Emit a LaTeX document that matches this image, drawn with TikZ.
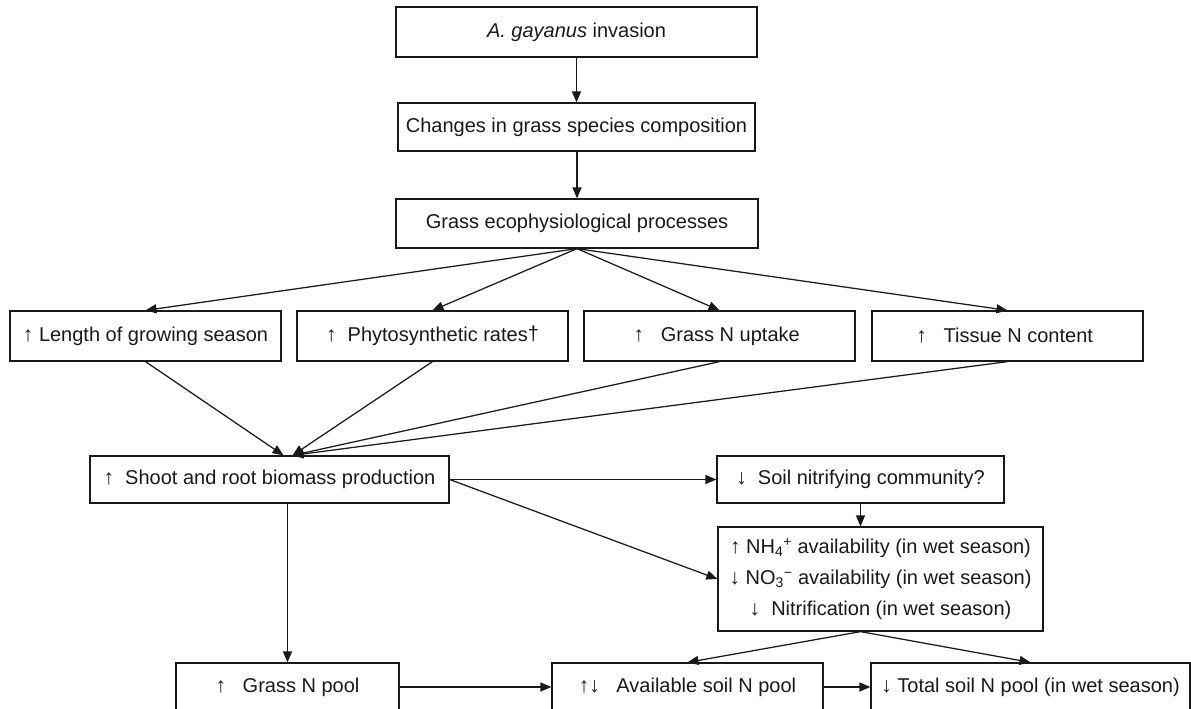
\documentclass[tikz,border=0pt]{standalone}
\usepackage{fontspec}
\setmainfont{Liberation Sans}
\usetikzlibrary{arrows.meta,calc}
\newcommand\myup{{\fontsize{21}{21}\selectfont ↑}}
\newcommand\mydn{{\fontsize{21}{21}\selectfont ↓}}
\begin{document}
\begin{tikzpicture}[x=1pt,y=-1pt,
  box/.style={draw=black!90, line width=1.25pt, inner sep=0pt, text=black!90,
    font=\fontsize{20}{31}\selectfont, anchor=center},
  arr/.style={draw=black!90, line width=1.25pt, -{Triangle[length=11pt,width=9pt]}},
]
\useasboundingbox (0,0) rectangle (1191,709);
\clip (0,0) rectangle (1191,709);

\node[box, minimum width=361pt, minimum height=50pt] (inv) at (576.5,32) {\textit{A. gayanus} invasion};
\node[box, minimum width=357pt, minimum height=48pt] (chg) at (576.5,127) {Changes in grass species composition};
\node[box, minimum width=362pt, minimum height=49pt] (eco) at (577,223.5) {Grass ecophysiological processes};

\node[box, minimum width=271pt, minimum height=50pt] (len) at (145.5,336) {\myup\ Length of growing season};
\node[box, minimum width=271pt, minimum height=50pt] (pho) at (432.5,336) {\myup\ \ Phytosynthetic rates\raisebox{1pt}{†}};
\node[box, minimum width=271pt, minimum height=50pt] (upt) at (719.5,336) {\myup\ \ \ Grass N uptake\ \ };
\node[box, minimum width=271pt, minimum height=50pt] (tis) at (1007.5,336) {\myup\ \ \ Tissue N content\ \ };

\node[box, minimum width=359pt, minimum height=47pt] (sho) at (269.5,479.5) {\myup\ \ Shoot and root biomass production};
\node[box, minimum width=287pt, minimum height=47pt] (nit) at (860.5,479.5) {\mydn\ \ Soil nitrifying community?};
\node[box, minimum width=325pt, minimum height=104pt, align=center] (nh4) at (880.5,579)
  {\myup\ NH\textsubscript{4}\textsuperscript{+} availability (in wet season)\\
   \mydn\ NO\textsubscript{3}\textsuperscript{−} availability (in wet season)\\
   \mydn\ \ Nitrification (in wet season)};

\node[box, minimum width=223pt, minimum height=48pt] (gnp) at (287.5,687) {\myup\ \ \ Grass N pool\ };
\node[box, minimum width=271pt, minimum height=48pt] (asp) at (687.5,687) {\myup\mydn\ \ \ Available soil N pool};
\node[box, minimum width=319pt, minimum height=48pt] (tsp) at (1030.5,687) {\mydn\ Total soil N pool (in wet season)};

\coordinate (c1) at ($(sho.north)+(14,0)$);
\coordinate (c2) at ($(sho.north)+(23,0)$);
\coordinate (nb) at (nit.south |- nh4.south);

\draw[arr] (inv.south) -- (inv.south |- chg.north);
\draw[arr] (chg.south -| eco.north) -- (eco.north);
\draw[arr] (eco.south) -- (len.north);
\draw[arr] (eco.south) -- (pho.north);
\draw[arr] (eco.south) -- (upt.north);
\draw[arr] (eco.south) -- (tis.north);

\draw[arr] (len.south) -- (c1);
\draw[arr] (pho.south) -- (c2);
\draw[arr] (upt.south) -- (c2);
\draw[arr] (tis.south) -- (c2);

\draw[arr] (sho.east) -- (nit.west);
\draw[arr] (sho.east) -- (nh4.west);
\draw[arr] (nit.south) -- (nit.south |- nh4.north);
\draw[arr] (nb) -- (asp.north);
\draw[arr] (nb) -- (tsp.north);
\draw[arr] (gnp.north |- sho.south) -- (gnp.north);
\draw[arr] (gnp.east) -- (asp.west);
\draw[arr] (asp.east) -- (tsp.west);
\end{tikzpicture}
\end{document}
